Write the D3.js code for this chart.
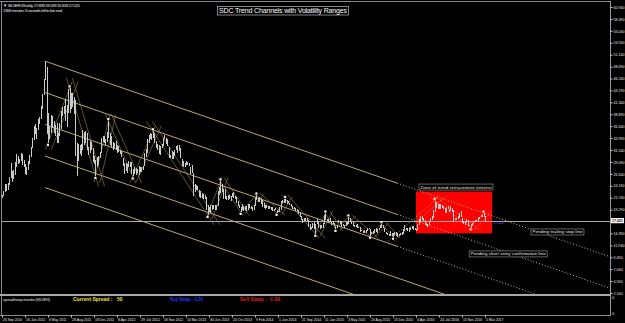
<!DOCTYPE html>
<html>
<head>
<meta charset="utf-8">
<script src="https://cdn.jsdelivr.net/npm/d3@7"></script>
<style>
  body { margin: 0; background: #000; }
  svg { display: block; font-family: "Liberation Sans", Arial, sans-serif; }
</style>
</head>
<body>
<div id="chart"></div>
<script>
//weekly SILVER bars, one high/low pair per week starting 26 Sep 2010
const high2010 = [22.2,23.2,24.5,24.5,24.7,25.9,28.9,27.3,27.4,29.0,30.7,30.3,29.7,31.0];
const low2010  = [21.6,22.0,23.0,23.1,23.3,24.4,25.8,24.9,25.5,26.5,28.0,28.6,28.9,29.3];
const high2011 = [30.8,29.5,28.6,28.0,29.3, 30.5,32.2,34.0,36.4, 36.8,36.0,37.9,38.3, 40.6,43.0,46.1,49.8,
                  48.6,39.2,36.5,38.8,38.5, 37.6,36.6,37.0,35.0, 37.0,39.5,40.4,40.6,42.0, 40.8,44.0,44.2,43.2,
                  43.2,42.5,41.8,33.0, 32.8,32.5,32.7,35.6,35.2, 35.4,35.0,32.2,33.3, 33.2,32.0,30.4,29.5];
const low2011  = [28.5,28.0,26.7,26.3,27.5, 28.7,30.0,32.0,33.5, 34.8,33.8,35.6,36.9, 38.0,40.0,42.9,46.0,
                  34.9,33.0,33.7,35.0,36.0, 35.0,34.4,33.0,32.9, 34.4,35.9,38.5,38.9,37.5, 36.3,39.2,39.2,40.0,
                  40.3,38.9,30.3,26.1, 29.2,30.7,30.3,31.5,32.5, 33.0,31.5,30.5,31.0, 31.5,29.1,28.6,26.2];
const high2012 = [30.1,30.4,31.2,34.0,34.5, 34.4,33.7,35.3,37.5, 35.0,34.4,33.1,32.9, 33.3,32.5,32.3,31.5,31.3,
                  29.9,28.9,28.8,28.7, 29.3,29.0,29.0,27.7, 28.0,27.8,27.6,28.2,28.0, 28.0,28.3,30.9,31.7,
                  33.8,34.6,35.0,34.9,35.4, 35.0,33.3,32.7,32.5, 32.3,32.7,34.0,34.6, 34.0,33.8,32.2,30.5,31.3];
const low2012  = [28.1,28.4,29.8,31.0,33.1, 33.0,32.4,33.2,34.0, 32.5,32.2,31.5,31.9, 31.5,30.9,31.2,30.7,30.0,
                  28.2,26.7,27.3,26.9, 28.0,28.0,26.6,26.1, 26.6,26.4,26.8,26.4,27.0, 27.0,27.5,28.2,30.0,
                  31.0,33.0,33.8,33.6,34.0, 33.0,32.0,31.5,30.8, 30.5,32.0,32.3,33.9, 32.8,32.4,29.9,29.8,29.6];
const high2013 = [31.2,31.6,32.4,32.5, 32.5,31.9,29.7,29.3, 28.9,29.2,29.1,28.9,28.0, 28.4,26.9,24.5,24.4,
                  24.2,23.3,23.2,22.8, 22.4,22.3,21.9,20.2,19.8, 20.2,20.2,20.3,20.2, 20.3,23.1,23.9,25.1,
                  24.5,23.6,23.6,22.0,22.3, 22.3,22.1,22.8,23.0, 22.1,21.9,21.1,20.2, 19.9,20.4,20.0,20.0,20.1];
const low2013  = [29.7,30.3,31.6,31.0, 31.4,29.8,28.3,28.0, 28.0,28.4,28.5,28.2,26.6, 26.8,22.0,22.9,23.3,
                  23.3,21.9,21.6,21.7, 21.4,21.4,19.3,18.2,18.8, 18.6,19.2,19.4,19.3, 19.2,20.0,22.3,22.8,
                  22.9,21.5,21.5,21.2,21.2, 21.5,21.1,21.8,21.7, 21.4,20.6,20.0,19.6, 18.8,19.3,19.0,19.3,19.0];
const high2014 = [20.4,20.5,20.0,19.9, 20.2,21.6,22.2,21.7, 21.9,21.6,21.3,20.6,20.3, 20.3,20.1,20.0,19.9,
                  19.9,19.5,19.6,19.2, 19.1,19.8,21.0,21.3,21.4, 21.5,21.2,21.1,20.7, 20.5,20.1,19.8,19.6,19.4,
                  19.3,18.7,17.9,17.3, 17.5,17.6,17.5,17.1, 16.3,15.8,16.5,16.7,16.3, 17.4,16.8,16.2,16.1];
const low2014  = [19.3,19.7,19.4,19.0, 19.3,20.0,21.2,20.9, 20.9,20.5,19.9,19.6,19.4, 19.7,19.5,19.4,19.3,
                  19.0,19.0,19.3,18.6, 18.7,18.8,19.3,20.6,20.7, 20.7,20.5,20.6,20.2, 19.8,19.5,19.4,19.1,18.9,
                  18.4,17.7,17.2,16.6, 16.9,16.9,16.9,15.8, 15.1,15.2,15.6,15.3,14.3, 16.4,15.6,15.4,15.5];
const high2015 = [16.6,18.2,18.5,17.4, 17.4,17.5,16.8,16.9, 16.6,16.0,16.2,17.2,16.9, 16.9,16.4,16.1,16.8,
                  16.8,17.7,17.6,16.9,16.8, 16.1,16.2,16.4,15.8, 15.7,15.1,14.9,15.0, 15.0,15.5,15.6,15.4,14.7,
                  14.8,15.3,15.5,15.2, 15.5,16.1,16.3,16.2, 15.6,14.7,14.4,14.3,14.8, 14.5,14.5,14.7,14.6];
const low2015  = [15.6,16.3,17.2,16.9, 16.6,16.8,16.1,16.4, 15.9,15.3,15.5,16.6,16.4, 15.8,15.9,15.5,15.9,
                  16.1,16.3,16.8,16.4,15.9, 15.8,15.7,15.6,15.5, 14.6,14.9,14.4,14.4, 14.4,14.8,15.2,13.9,14.3,
                  14.3,14.5,14.7,14.4, 15.0,15.6,15.6,15.6, 14.6,14.2,14.0,13.9,13.9, 13.8,13.7,14.1,13.8];
const high2016 = [14.4,14.3,14.4,14.6,15.3, 16.1,15.6,15.5,15.6, 15.7,15.9,15.9,15.5, 15.3,16.3,17.3,18.0,
                  18.0,17.5,17.2,16.5,16.4, 17.0,17.6,18.0,19.3, 21.1,20.9,20.4,20.4,20.4, 20.2,20.1,19.6,19.8,
                  20.0,19.4,20.0,19.6, 19.3,17.6,17.6,17.9,18.6, 18.9,17.5,16.9,16.8, 17.4,17.2,16.2,16.4];
const low2016  = [13.7,13.8,14.0,14.1,14.2, 14.9,15.0,14.8,14.6, 15.1,15.2,15.0,15.0, 14.9,15.0,16.2,16.7,
                  17.2,16.9,16.2,16.0,15.8, 16.1,16.9,17.1,17.6, 18.7,19.6,19.4,19.5,19.4, 19.6,19.4,18.6,18.5,
                  19.4,18.7,19.0,18.8, 16.8,17.2,17.1,17.4,17.6, 17.8,16.5,16.3,16.2, 16.6,16.0,15.9,15.6];
const high2017 = [16.6,16.9,17.2,17.2,17.8, 17.8,18.2,18.4,18.5, 17.9];
const low2017  = [16.0,16.5,16.7,16.9,17.0, 17.3,17.8,17.8,17.7, 16.8];
const lastPrice = 17.021;

//price scale labels (16.840 is covered by the current price tag)
const priceTicks = [60.94,58.49,56.04,53.59,51.14,48.69,46.24,43.79,41.34,38.89,36.44,33.99,31.54,
                    29.09,26.64,24.19,21.74,19.29,14.39,11.94,9.49,7.04,4.59,2.14];
//time scale labels, every 16 weeks
const dateLabels = ["26 Sep 2010","16 Jan 2011","8 May 2011","28 Aug 2011","18 Dec 2011","8 Apr 2012",
                    "29 Jul 2012","18 Nov 2012","10 Mar 2013","30 Jun 2013","20 Oct 2013","9 Feb 2014",
                    "1 Jun 2014","21 Sep 2014","11 Jan 2015","3 May 2015","23 Aug 2015","13 Dec 2015",
                    "3 Apr 2016","24 Jul 2016","13 Nov 2016","5 Mar 2017"];

//zigzag swing points (week index, price)
const swingIdx   = [32, 47, 65, 74, 91, 105, 143, 152, 166, 177, 191, 197, 218, 225, 232, 241, 256, 264, 272, 301, 326, 335];
const swingPrice = [33.0, 44.2, 26.2, 37.5, 26.1, 35.4, 18.2, 25.1, 18.8, 22.2, 18.6, 21.5, 14.3, 18.5, 15.3, 17.7, 13.9, 16.3, 13.7, 21.1, 15.6, 18.5];

//main descending channel: anchor (week, price) pairs and parallel offsets in price
const channelFrom = [30, 49.8];
const channelTo = [423, 9.6];
const channelOffsets = [0, 6.45, 13.0, 19.5, 26.0];
const channelDotFrom = 275;

//zone of retracement interest (weeks, prices)
const zoneWeeks = [288, 341];
const zonePrices = [14.4, 23.0];

const W = 625, H = 323;

const highs = [].concat(high2010, high2011, high2012, high2013, high2014, high2015, high2016, high2017);
const lows = [].concat(low2010, low2011, low2012, low2013, low2014, low2015, low2016, low2017);

//scales
const x = d3.scaleLinear().domain([0, 423]).range([2, 610]);
const y = d3.scaleLinear().domain([2.14, 60.94]).range([293, 7]);

const svg = d3.select("#chart").append("svg")
    .attr("width", W)
    .attr("height", H);

svg.append("rect").attr("width", W).attr("height", H).attr("fill", "#000");

svg.append("defs").append("clipPath").attr("id", "mainClip")
    .append("rect").attr("x", 1).attr("y", 2).attr("width", 609).attr("height", 292);

const plot = svg.append("g").attr("clip-path", "url(#mainClip)");

//red zone
plot.append("rect")
    .attr("x", x(zoneWeeks[0]))
    .attr("y", y(zonePrices[1]))
    .attr("width", x(zoneWeeks[1]) - x(zoneWeeks[0]))
    .attr("height", y(zonePrices[0]) - y(zonePrices[1]))
    .attr("fill", "#ff0000");

//current price line
plot.append("line")
    .attr("x1", 0).attr("x2", 610)
    .attr("y1", Math.round(y(lastPrice)) + 0.5).attr("y2", Math.round(y(lastPrice)) + 0.5)
    .attr("stroke", "#a8a8a8").attr("stroke-width", 1);

//main channel lines
const chanColor = "#cdbb7c";
channelOffsets.forEach(function(off, k){
    const slope = (channelTo[1] - channelFrom[1]) / (channelTo[0] - channelFrom[0]);
    const priceAt = function(w){ return channelFrom[1] - off + slope * (w - channelFrom[0]); };
    if (k < 3) {
        plot.append("line")
            .attr("x1", x(channelFrom[0])).attr("y1", y(priceAt(channelFrom[0])))
            .attr("x2", x(channelDotFrom)).attr("y2", y(priceAt(channelDotFrom)))
            .attr("stroke", chanColor).attr("stroke-width", 0.9);
        plot.append("line")
            .attr("x1", x(channelDotFrom)).attr("y1", y(priceAt(channelDotFrom)))
            .attr("x2", x(channelTo[0])).attr("y2", y(priceAt(channelTo[0])))
            .attr("stroke", "#d8cc98").attr("stroke-width", 0.9)
            .attr("stroke-dasharray", "1,2");
    } else {
        plot.append("line")
            .attr("x1", x(channelFrom[0])).attr("y1", y(priceAt(channelFrom[0])))
            .attr("x2", x(channelTo[0])).attr("y2", y(priceAt(channelTo[0])))
            .attr("stroke", chanColor).attr("stroke-width", 0.9);
    }
});

//zigzag trend sub-channels
const swings = swingIdx.map(function(d, i){ return {w: d, p: swingPrice[i]}; });
const legs = d3.pairs(swings);
const zz = plot.append("g");
legs.forEach(function(leg){
    const a = leg[0], b = leg[1];
    const x0 = x(a.w), y0 = y(a.p), x1 = x(b.w), y1 = y(b.p);
    const ex = (x1 - x0) * 0.12, ey = (y1 - y0) * 0.12;
    const dotted = a.w >= 272;
    [0, 6].forEach(function(sh){
        zz.append("line")
            .attr("x1", x0 - ex + sh).attr("y1", y0 - ey)
            .attr("x2", x1 + ex + sh).attr("y2", y1 + ey)
            .attr("stroke", dotted ? "#e8dca0" : "#9c8756")
            .attr("stroke-width", 0.6)
            .attr("stroke-dasharray", dotted ? "1,1.5" : null);
    });
});

//weekly bars
plot.append("g").selectAll("line")
    .data(highs)
    .join("line")
    .attr("x1", function(d, i){ return Math.round(x(i)) + 0.5; })
    .attr("x2", function(d, i){ return Math.round(x(i)) + 0.5; })
    .attr("y1", function(d){ return y(d); })
    .attr("y2", function(d, i){ return y(lows[i]); })
    .attr("stroke", "#cacaca")
    .attr("stroke-width", 1)
    .attr("shape-rendering", "crispEdges");

//swing markers
plot.append("g").selectAll("rect")
    .data(swings)
    .join("rect")
    .attr("x", function(d){ return x(d.w) - 1; })
    .attr("y", function(d, i){ return y(d.p) - 1 + (i % 2 === 0 ? 2 : -2); })
    .attr("width", 2).attr("height", 2)
    .attr("fill", "#ffffff");

//frame
svg.append("line").attr("x1", 0).attr("x2", 611).attr("y1", 1.5).attr("y2", 1.5).attr("stroke", "#8a8a8a");
svg.append("line").attr("x1", 1.5).attr("x2", 1.5).attr("y1", 1).attr("y2", 316).attr("stroke", "#8a8a8a");
svg.append("rect").attr("x", 0).attr("y", 294).attr("width", 611).attr("height", 2).attr("fill", "#a8a8a8");
svg.append("line").attr("x1", 0).attr("x2", 611).attr("y1", 315.5).attr("y2", 315.5).attr("stroke", "#8a8a8a");

//price axis
const yAxis = svg.append("g")
    .attr("transform", "translate(610.5,0)")
    .call(d3.axisRight(y).tickValues(priceTicks).tickFormat(d3.format(".3f")).tickSize(2).tickPadding(1));
yAxis.select(".domain").attr("stroke", "#9a9a9a").attr("d", "M0,1V316");
yAxis.selectAll(".tick line").attr("stroke", "#cfcfcf");
yAxis.selectAll("text").attr("fill", "#e6e6e6").attr("font-size", "3.8px")
    .attr("textLength", function(d){ return d < 10 ? 9.2 : 11; })
    .attr("lengthAdjust", "spacingAndGlyphs");

//current price tag
svg.append("rect").attr("x", 611).attr("y", y(lastPrice) - 2.6).attr("width", 13).attr("height", 5.2).attr("fill", "#ffffff");
svg.append("text").attr("x", 612).attr("y", y(lastPrice) + 1.5)
    .attr("font-size", "4px").attr("font-weight", "bold").attr("fill", "#000")
    .attr("textLength", 11).attr("lengthAdjust", "spacingAndGlyphs")
    .text(d3.format(".3f")(lastPrice));
svg.append("text").attr("x", x(342)).attr("y", y(lastPrice) + 3)
    .attr("font-size", "3.4px").attr("fill", "#9a4cff")
    .text(d3.format(".3f")(lastPrice));

//subwindow scale
[297.5, 313.5].forEach(function(py){
    svg.append("text").attr("x", 612).attr("y", py + 1.5)
        .attr("font-size", "4px").attr("fill", "#e6e6e6").text("0");
});

//time axis
const xAxis = svg.append("g")
    .attr("transform", "translate(0,315.5)")
    .call(d3.axisBottom(x).tickValues(dateLabels.map(function(d, i){ return i * 16; }))
        .tickFormat(function(d, i){ return dateLabels[i]; }).tickSize(2).tickPadding(1));
xAxis.select(".domain").remove();
xAxis.selectAll(".tick line").attr("stroke", "#cfcfcf");
xAxis.selectAll("text").attr("fill", "#e6e6e6").attr("font-size", "3.6px")
    .attr("text-anchor", "start").attr("dx", "0.5")
    .attr("textLength", function(d, i){ return dateLabels[i].length * 1.75; })
    .attr("lengthAdjust", "spacingAndGlyphs");

//header texts
svg.append("text").attr("x", 3).attr("y", 6.8).attr("font-size", "4.2px").attr("fill", "#e8e8e8")
    .attr("textLength", 77).text("\u25BC SILVER,Weekly  17.899 18.099 16.818 17.021");
svg.append("text").attr("x", 3).attr("y", 11.8).attr("font-size", "4.2px").attr("fill", "#e8e8e8")
    .attr("textLength", 59).text("1366 minutes 3 seconds left to bar end");

svg.append("rect").attr("x", 217.5).attr("y", 6.5).attr("width", 131).attr("height", 8.5)
    .attr("fill", "#000").attr("stroke", "#a0a0a0").attr("stroke-width", 0.8);
svg.append("text").attr("x", 219).attr("y", 13.3).attr("font-size", "7px").attr("fill", "#ffffff")
    .attr("textLength", 128).text("SDC Trend Channels with Volatility Ranges");

//annotation labels
function note(px, py, w, label){
    svg.append("rect").attr("x", px).attr("y", py).attr("width", w).attr("height", 6)
        .attr("fill", "#000").attr("stroke", "#a0a0a0").attr("stroke-width", 0.6);
    svg.append("text").attr("x", px + 1.5).attr("y", py + 4.5).attr("font-size", "4.3px")
        .attr("fill", "#f0f0f0").attr("textLength", w - 3).text(label);
}
note(x(zoneWeeks[0]) + 3, y(zonePrices[1]) - 7.5, 74, "Zone of trend retracement interest");
note(x(368), y(14.69) - 3, 53, "Pending trailing stop line");
note(x(325), y(10.17) - 3, 78, "Pending short entry confirmation line");

//spread/swap monitor subwindow
svg.append("text").attr("x", 3).attr("y", 300.5).attr("font-size", "3.8px").attr("fill", "#e0e0e0")
    .attr("textLength", 47).text("spread/swap monitor (SILVER)");
svg.append("text").attr("x", 73).attr("y", 301).attr("font-size", "5px").attr("font-weight", "bold")
    .attr("fill", "#f0e030").text("Current Spread :");
svg.append("text").attr("x", 117).attr("y", 301).attr("font-size", "5px").attr("font-weight", "bold")
    .attr("fill", "#f0e030").text("50");
svg.append("text").attr("x", 170).attr("y", 301).attr("font-size", "4.6px").attr("font-weight", "bold")
    .attr("fill", "#2233ee").attr("textLength", 33).text("Buy Swap :  -1.20");
svg.append("text").attr("x", 240).attr("y", 301).attr("font-size", "4.6px").attr("font-weight", "bold")
    .attr("fill", "#e82020").attr("textLength", 40).text("Sell Swap :  -1.00");
</script>
</body>
</html>
